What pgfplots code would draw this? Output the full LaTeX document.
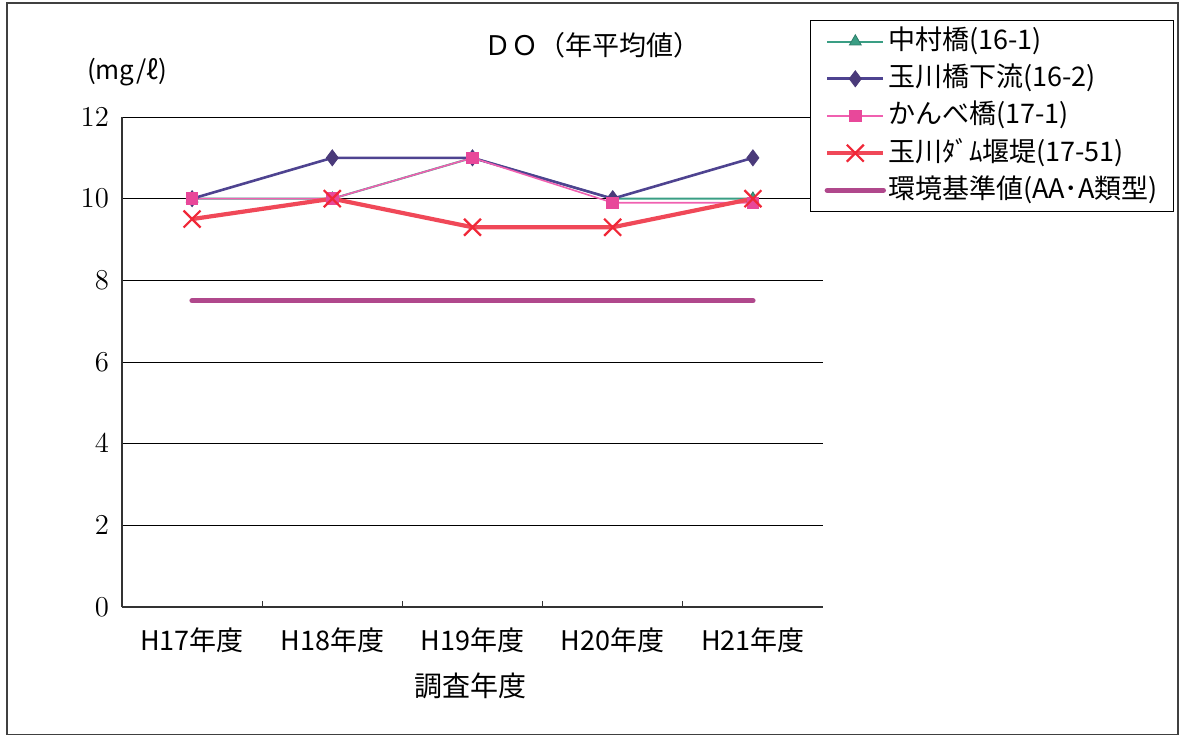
\documentclass[border=0pt]{standalone}
\usepackage{pgfplots}
\pgfplotsset{compat=1.18}
\usepackage{fontspec}
\setmainfont{Noto Sans CJK JP}
\newfontfamily\cjk{Noto Sans CJK JP}

\definecolor{cGreen}{HTML}{3A9E84}
\definecolor{cNavy}{HTML}{4E4390}
\definecolor{cNavyMk}{HTML}{4A3A7A}
\definecolor{cPink}{HTML}{F060B0}
\definecolor{cPinkMk}{HTML}{E8489A}
\definecolor{cRed}{HTML}{F04858}
\definecolor{cRedMk}{HTML}{F02838}
\definecolor{cStd}{HTML}{B0488C}

\begin{document}
\begin{tikzpicture}
\useasboundingbox (0,0) rectangle (589.5pt,367.5pt);
\draw[line width=0.6pt, black!75] (3.5pt,0.4pt) rectangle (589pt,366pt);

\begin{axis}[
  at={(61pt,64pt)}, anchor=south west,
  scale only axis, width=350.5pt, height=245pt,
  xmin=0.5, xmax=5.5, ymin=0, ymax=12,
  axis x line*=bottom, axis y line*=left,
  axis line style={-, line width=0.6pt, black!80},
  xtick={1.5,2.5,3.5,4.5}, xticklabels={},
  x tick style={black!80, line width=0.5pt},
  major tick length=3pt, tick align=inside,
  extra x ticks={1,2,3,4,5},
  extra x tick labels={H17年度,H18年度,H19年度,H20年度,H21年度},
  extra x tick style={major tick length=0pt, tick style={draw=none},
    xticklabel style={font=\cjk\fontsize{13.5}{15}\selectfont, yshift=-7pt}},
  ytick={0,2,4,6,8,10,12},
  ytick style={draw=none},
  yticklabel style={font=\fontsize{14.5}{16}\selectfont, xshift=-3pt},
  ymajorgrids, grid style={black, line width=0.5pt},
  clip=false,
  legend cell align=left,
  legend style={at={(0.9815,1.198)}, anchor=north west,
    draw=black, line width=0.6pt, inner xsep=7pt, inner ysep=2.5pt,
    font=\cjk\fontsize{13.5}{15}\selectfont,
    row sep=2.6pt,
    nodes={text height=11pt, text depth=3pt, inner sep=1pt}},
  legend image code/.code={%
    \draw[mark repeat=2, mark phase=2] plot coordinates {(0pt,0pt) (14pt,0pt) (28pt,0pt)};},
]
\addplot[cGreen, line width=1pt, mark=triangle*, mark size=3.4pt,
  mark options={fill=cGreen, draw=cGreen!80!black, line width=0.4pt}]
  coordinates {(1,10) (2,10) (3,11) (4,10) (5,10)};
\addlegendentry{中村橋(16-1)}

\addplot[cNavy, line width=1.3pt, mark=diamond*, mark size=4pt,
  mark options={fill=cNavyMk, draw=cNavyMk, line width=0.4pt}]
  coordinates {(1,10) (2,11) (3,11) (4,10) (5,11)};
\addlegendentry{玉川橋下流(16-2)}

\addplot[cPink, line width=0.8pt, mark=square*, mark size=2.9pt,
  mark options={fill=cPinkMk, draw=cPinkMk, line width=0.4pt}]
  coordinates {(1,10) (2,10) (3,11) (4,9.9) (5,9.9)};
\addlegendentry{かんべ橋(17-1)}

\addplot[cRed, line width=2.1pt, mark=x, mark size=6pt,
  mark options={draw=cRedMk, line width=1.1pt}]
  coordinates {(1,9.5) (2,10) (3,9.3) (4,9.3) (5,10)};
\addlegendentry{玉川ﾀﾞﾑ堰堤(17-51)}

\addplot[cStd, line width=2.7pt, line cap=round, mark=none]
  coordinates {(1,7.5) (2,7.5) (3,7.5) (4,7.5) (5,7.5)};
\addlegendentry{環境基準値(AA･A類型)}
\end{axis}

\node[font=\cjk\fontsize{13.5}{15}\selectfont] at (296pt,345pt) {ＤＯ（年平均値）};
\node[font=\cjk\fontsize{13}{15}\selectfont] at (63.5pt,331.5pt) {(mg/ℓ)};
\node[font=\cjk\fontsize{14}{16}\selectfont] at (235pt,24.5pt) {調査年度};
\end{tikzpicture}
\end{document}
